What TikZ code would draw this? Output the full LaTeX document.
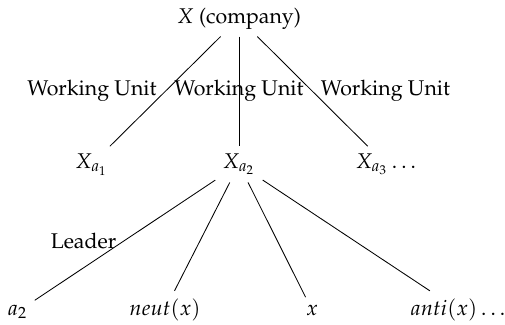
\documentclass[tikz,border=0pt]{standalone}
\usepackage[T1]{fontenc}
\usepackage{mathpazo}
\begin{document}
\begin{tikzpicture}[x=0.4695pt,y=-0.4695pt,
  tn/.style={anchor=base},
  lbl/.style={anchor=base, inner sep=0pt},
  edge/.style={draw, line width=0.4pt}]
\useasboundingbox (0,0) rectangle (505,324);
\node[tn] (top) at (239,23) {$X$ (company)};
\node[tn] (xa1) at (91.5,168.5) {$X_{a_1}$};
\node[tn] (xa2) at (239,168.5) {$X_{a_2}$};
\node[tn] (xa3) at (386,168.5) {$X_{a_3}\ldots$};
\node[tn] (b1) at (17.5,315) {$a_2$};
\node[tn] (b2) at (165,315) {$neut(x)$};
\node[tn] (b3) at (312,315) {$x$};
\node[tn] (b4) at (458,315) {$anti(x)\ldots$};
\node[lbl] (wu1) at (92,95) {Working Unit};
\node[lbl] (wu2) at (239,95) {Working Unit};
\node[lbl] (wu3) at (385.5,95) {Working Unit};
\node[lbl] (lead) at (83.5,248) {Leader};
\draw[edge] (top) -- (xa1);
\draw[edge] (top) -- (xa2);
\draw[edge] (top) -- (xa3);
\draw[edge] (xa2) -- (b1);
\draw[edge] (xa2) -- (b2);
\draw[edge] (xa2) -- (b3);
\draw[edge] (xa2) -- (b4);
\end{tikzpicture}
\end{document}
